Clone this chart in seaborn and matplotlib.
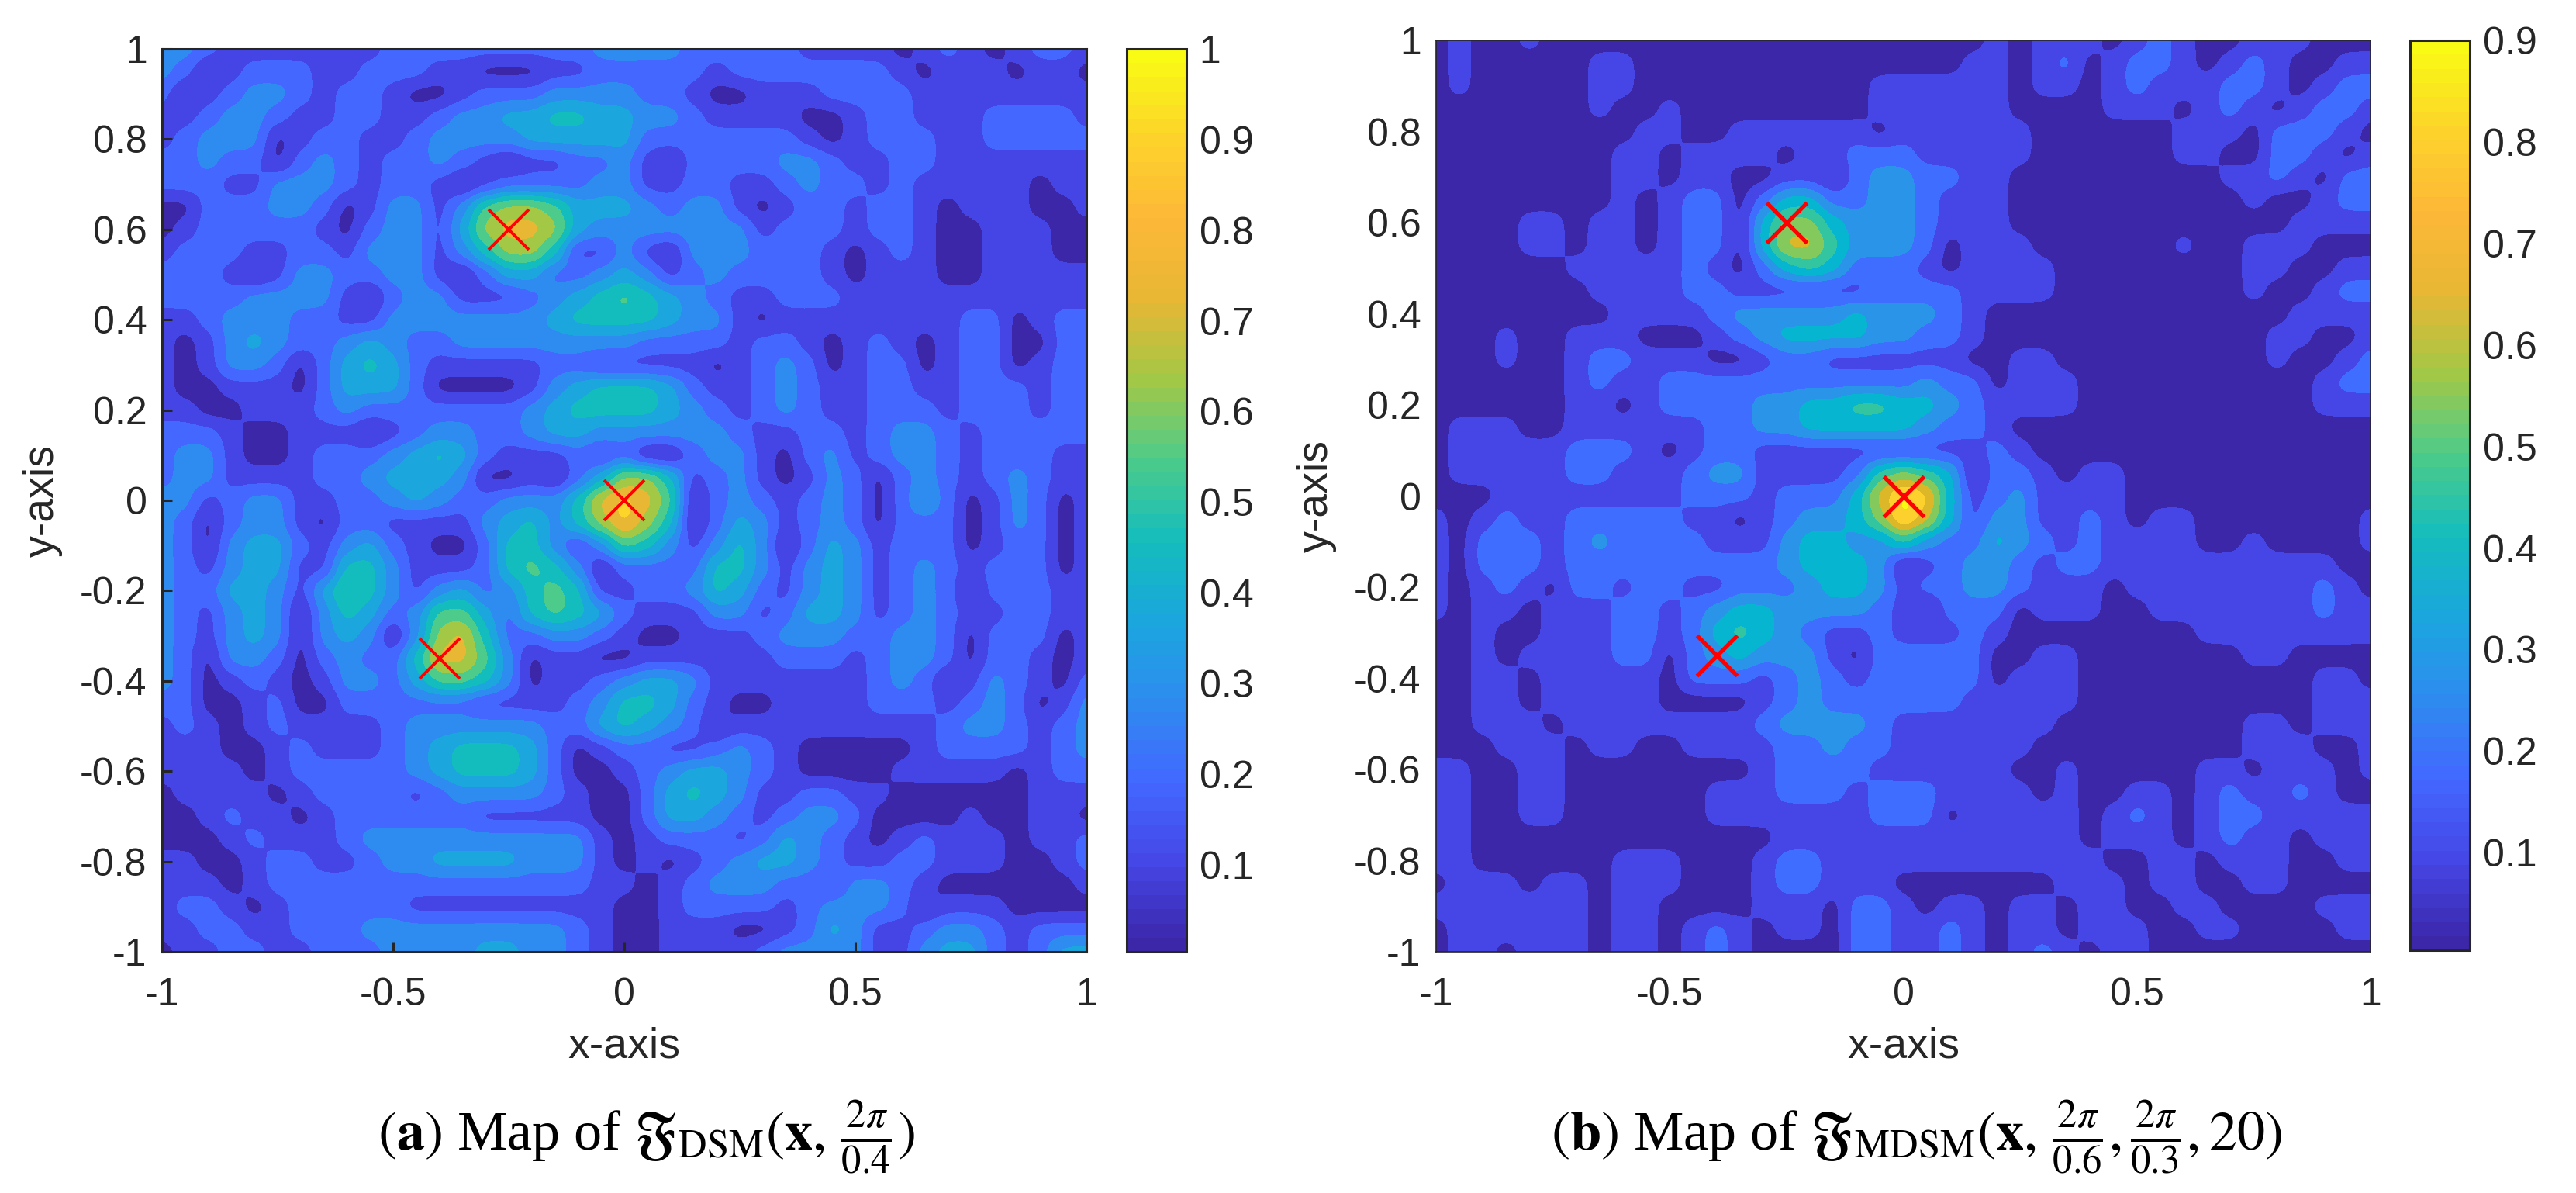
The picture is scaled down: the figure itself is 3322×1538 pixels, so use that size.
import numpy as np
import matplotlib
matplotlib.use("Agg")
import matplotlib.pyplot as plt
from matplotlib.colors import BoundaryNorm, ListedColormap
import seaborn as sns

# contour band of each grid cell (top row is y=1, left column is x=-1, step 0.05)
dsm_bands = [
    "332111111122222222233" + "33222221111012101221",
    "320122211222110001122" + "22212222222101110110",
    "201233212210012223333" + "22100111222211111111",
    "112332112211233445544" + "33211110012211122221",
    "123330122112333344444" + "22222221012221122222",
    "223220232122321011223" + "10222233211221111111",
    "222113332122101222233" + "11221123221211111011",
    "002223320133136776444" + "32331012212210111001",
    "012222210233147887433" + "33333122212210011100",
    "122211221333135775113" + "10333222101210011100",
    "222101332233102442234" + "31232222101110011111",
    "222233331023311123456" + "54321122211111111111",
    "112333221133333334555" + "54331011111111220122",
    "101343223432233333333" + "22221221012101220022",
    "101332024542111112211" + "11101232012201220122",
    "100111024442000013455" + "54211232112211222122",
    "110011123222222234555" + "54321232112221222122",
    "222100111012332234433" + "33332112212332122222",
    "233100122234542111212" + "00233102312332122211",
    "233111122344430010247" + "75123101320232123211",
    "331233112234322333589" + "86023212320242013201",
    "320233102211113453579" + "75024312320222013201",
    "320344213421002553136" + "53135302431222012201",
    "321344115531112565302" + "22255313431232122201",
    "322443146531342356511" + "22354213431232022211",
    "321343035423664256542" + "11133124431232112211",
    "321343034303785223321" + "00111233322332022201",
    "320332023225886301100" + "11111122212332022101",
    "320121013324665301123" + "44311111112320132102",
    "220012002222221111235" + "54210011112221232013",
    "121012111123333332245" + "43201111111112332123",
    "111001211123455542012" + "21123210000012222123",
    "111101222223455542001" + "23443210000111110122",
    "011110122221233332100" + "24543112211000000111",
    "001211012222221111100" + "24432123320000100110",
    "000121112333333333310" + "12221243210121110112",
    "110012211233444433310" + "10123443211221110012",
    "111012222222222222211" + "01233322133210000001",
    "122101222221111111110" + "01222212333201110000",
    "112211222333333333210" + "01110012431123321222",
    "011221122233334433210" + "01111233331134421244",
]

mdsm_bands = [
    "010010000000000000000" + "00010111012100111000",
    "010000011000000000000" + "00110120122101210011",
    "010000011000000000011" + "11110110121112210122",
    "000000010010000000011" + "11110000111012101221",
    "000000000110011111101" + "11111000000111022210",
    "000000001101111011222" + "11111000000110022101",
    "000000001101100110233" + "22110000000001121022",
    "000000001012202442233" + "21110000000000100122",
    "000011011012204664333" + "21110000000000001111",
    "000011011012204775333" + "20111000000100111000",
    "000000111112102454222" + "10111100000000110011",
    "000000011112211111122" + "22111100000000100122",
    "000000001111233333433" + "32100000000000001111",
    "000100111000123444433" + "22100000000000011001",
    "000100122111001221111" + "11001100000000010012",
    "000000121122222222222" + "32201110000000000122",
    "000000110122223344554" + "43211110000000000111",
    "011100111111223344444" + "32210000000000000000",
    "011111222101221111111" + "11121000000000000000",
    "011111221112331111256" + "54022101100000000000",
    "000111111112221222479" + "84123111100000000000",
    "101211222221101233469" + "74133112101100000001",
    "102221232222111344335" + "32243212111100100001",
    "102221222222222344430" + "12332122111111111100",
    "101210221221122234431" + "22332111011111111210",
    "101101112212344333321" + "02220111001111111211",
    "001001112212454321121" + "11210000000011111111",
    "001011112202343331022" + "22200110000000110000",
    "001101111102221232122" + "22201110000000000110",
    "001101111100001232222" + "22111110000000000111",
    "001110111111112333321" + "11111100000000110111",
    "000111011001111223221" + "11111000000000111001",
    "110011000000001222211" + "11110010000011011101",
    "110011000000111222122" + "21111010011012112100",
    "110011000000111111122" + "20111110121012211111",
    "110000000000000111111" + "11111110111012110111",
    "110000001110001221111" + "11111111001101110011",
    "011101101110001221110" + "00000011101100110000",
    "111111101100001110221" + "01101101100110000111",
    "011111101101210110221" + "12101101110011000011",
    "011011101101210000221" + "12101210110000000000",
]

target_x = [-0.25, 0.0, -0.4]
target_y = [0.6, 0.0, -0.35]

axis_ticks_x = [-1, -0.5, 0, 0.5, 1]
axis_labels_x = ["-1", "-0.5", "0", "0.5", "1"]
axis_ticks_y = [-1, -0.8, -0.6, -0.4, -0.2, 0, 0.2, 0.4, 0.6, 0.8, 1]
axis_labels_y = ["-1", "-0.8", "-0.6", "-0.4", "-0.2", "0", "0.2", "0.4", "0.6", "0.8", "1"]

dsm_cbar_ticks = [0.1, 0.2, 0.3, 0.4, 0.5, 0.6, 0.7, 0.8, 0.9, 1.0]
dsm_cbar_labels = ["0.1", "0.2", "0.3", "0.4", "0.5", "0.6", "0.7", "0.8", "0.9", "1"]
mdsm_cbar_ticks = [0.1, 0.2, 0.3, 0.4, 0.5, 0.6, 0.7, 0.8, 0.9]
mdsm_cbar_labels = ["0.1", "0.2", "0.3", "0.4", "0.5", "0.6", "0.7", "0.8", "0.9"]

# colours of the flat contour bands
dsm_colors = ["#3b27a8", "#4545e5", "#4367ff", "#2e8bf0", "#1ba6de",
              "#14bdbd", "#4dcb8a", "#a3c846", "#e8b734", "#fdd42a"]
mdsm_colors = ["#3b27a8", "#4646e6", "#3e6dff", "#2a94e8", "#06b5d0",
               "#33c4a0", "#84c95c", "#dcb829", "#fcd02d", "#f8fa14"]
parula_like = ["#3b27a8", "#4545e5", "#4367ff", "#2e8bf0", "#1ba6de", "#14bdbd",
               "#4dcb8a", "#a3c846", "#e8b734", "#fdb838", "#fdd42a", "#f9fb15"]

W, H = 3322, 1538
DARK = "#262626"

sns.set_theme(style="ticks")
plt.rcParams["font.family"] = ["Liberation Sans", "DejaVu Sans"]
plt.rcParams["mathtext.fontset"] = "stix"

fig = plt.figure(figsize=(W / 200, H / 200), dpi=200)
cmap = sns.blend_palette(parula_like, as_cmap=True).resampled(64)


def px_axes(left, top, right, bottom):
    return fig.add_axes([left / W, 1 - bottom / H, (right - left) / W, (bottom - top) / H])


def draw_panel(box, cbar_box, bands, colors, step, vmax, cticks, clabels, caption, cap_x, spine_w, tick_len, mark_w):
    ax = px_axes(*box)
    field = (np.array([[int(c) for c in row] for row in bands]) + 0.5) * step
    levels = np.arange(11) * step
    # the library's own resampling rounds the cell edges, the norm then gives the flat bands
    ax.imshow(field, extent=(-1.025, 1.025, -1.025, 1.025), origin="upper", aspect="auto",
              interpolation="gaussian", interpolation_stage="data",
              cmap=ListedColormap(colors), norm=BoundaryNorm(levels, 10))
    ax.plot(target_x, target_y, linestyle="none", marker="x", color="#ff0000", markersize=18.5, markeredgewidth=mark_w)
    ax.set_xlim(-1, 1)
    ax.set_ylim(-1, 1)
    ax.set_xticks(axis_ticks_x, axis_labels_x)
    ax.set_yticks(axis_ticks_y, axis_labels_y)
    ax.tick_params(axis="x", direction="in", length=tick_len, width=spine_w, pad=12, labelsize=18, colors=DARK)
    ax.tick_params(axis="y", direction="in", length=tick_len, width=spine_w, pad=7, labelsize=18, colors=DARK)
    for sp in ax.spines.values():
        sp.set_visible(True)
        sp.set_linewidth(spine_w)
        sp.set_color(DARK)
    ax.set_xlabel("x-axis", fontsize=20, color=DARK)
    ax.set_ylabel("y-axis", fontsize=20, color=DARK)
    height = box[3] - box[1]
    width = box[2] - box[0]
    ax.xaxis.set_label_coords(0.5, -(1350 - box[3]) / height, transform=ax.transAxes)
    ax.xaxis.label.set_verticalalignment("center")
    ax.yaxis.set_label_coords(-154 / width, 0.5, transform=ax.transAxes)
    ax.yaxis.label.set_verticalalignment("center")

    cax = px_axes(*cbar_box)
    sm = plt.cm.ScalarMappable(cmap=cmap, norm=plt.Normalize(0.004, vmax))
    cb = fig.colorbar(sm, cax=cax)
    cb.set_ticks(cticks, labels=clabels)
    cb.ax.tick_params(direction="in", length=5, width=1.0, pad=6, labelsize=18, colors=DARK)
    cb.outline.set_linewidth(1.1)
    cb.outline.set_edgecolor(DARK)

    fig.text(cap_x / W, 1 - 1467 / H, caption, family="Liberation Serif", fontsize=26,
             ha="center", va="center", color="black")


draw_panel((209, 63, 1401, 1227), (1453, 63, 1530, 1227), dsm_bands, dsm_colors, 0.1, 1.0,
           dsm_cbar_ticks, dsm_cbar_labels,
           r"$(\mathbf{a})$ Map of $\mathfrak{F}_{\mathrm{DSM}}(\mathbf{x},\,\frac{2\pi}{0.4})$",
           833, 1.1, 4.5, 1.4)
draw_panel((1852, 52, 3057, 1227), (3108, 52, 3185, 1225), mdsm_bands, mdsm_colors, 0.09, 0.9,
           mdsm_cbar_ticks, mdsm_cbar_labels,
           r"$(\mathbf{b})$ Map of $\mathfrak{F}_{\mathrm{MDSM}}(\mathbf{x},\,\frac{2\pi}{0.6},\frac{2\pi}{0.3},20)$",
           2472, 0.6, 0, 1.9)

fig.savefig("out.png", dpi=200, facecolor="white")
